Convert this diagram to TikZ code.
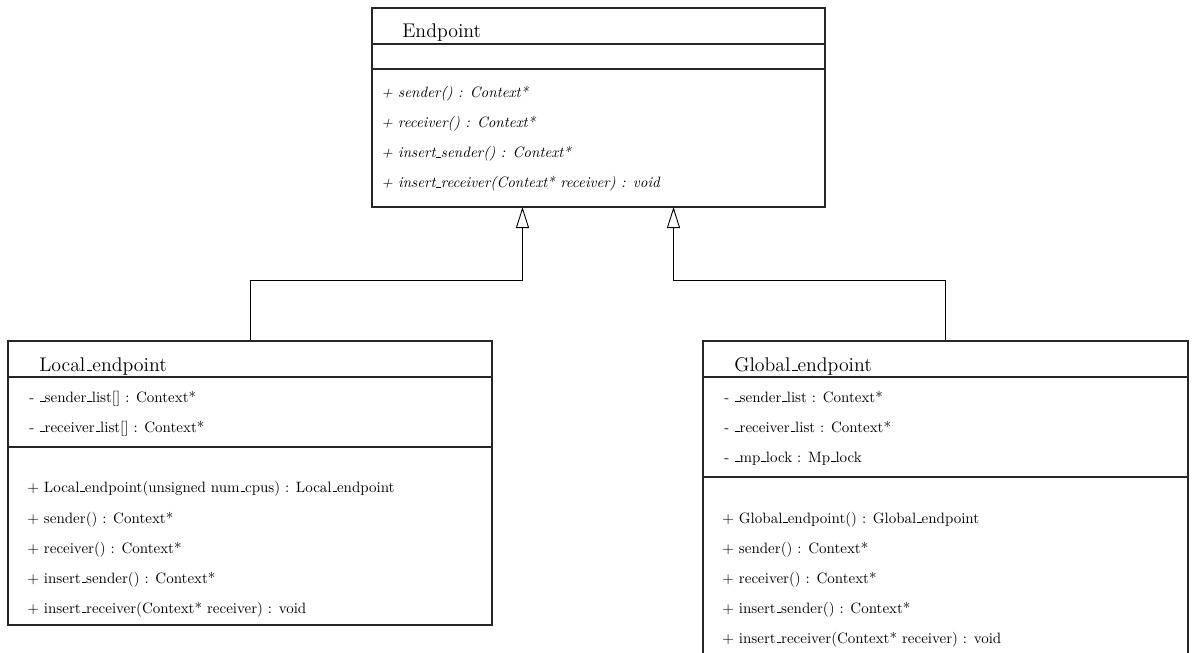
\documentclass[tikz,border=0pt]{standalone}
\usetikzlibrary{arrows.meta,fit}
% low, narrow underscore in the classic Computer Modern style
\newcommand{\usc}{\kern.06em\rule{.3em}{0.4pt}}
\begin{document}
\begin{tikzpicture}[
  x=0.666667pt, y=-0.666667pt,
  classbox/.style={draw=black!85, line width=0.9pt, inner sep=0pt, fit=#1},
  divider/.style={draw=black!85, line width=0.9pt},
  classname/.style={anchor=base west, inner sep=0pt, font=\fontsize{13.2}{16}\selectfont},
  member/.style={anchor=base west, inner sep=0pt},
  absmember/.style={anchor=base west, inner sep=0pt, font=\itshape},
  inherit/.style={draw=black, line width=0.6pt,
    -{Triangle[open, length=14pt, width=8.7pt, fill=white]}}
]
\clip (0,0) rectangle (1193,652);

% ---- Endpoint (abstract) ----
\coordinate (eTL) at (372,8);
\coordinate (eBR) at (825,207);
\node[classbox={(eTL)(eBR)}] (endpoint) {};
\draw[divider] (372,44) -- (825,44);
\draw[divider] (372,69) -- (825,69);
\node[classname] (eName) at (402,37.5) {Endpoint};
\node[absmember] (e1) at (381,97.5)  {+ sender() : Context*};
\node[absmember] (e2) at (381,127.5) {+ receiver() : Context*};
\node[absmember] (e3) at (381,157.5) {+ insert\usc sender() : Context*};
\node[absmember] (e4) at (381,187.5) {+ insert\usc receiver(Context* receiver) : void};

% ---- Local_endpoint ----
\coordinate (lTL) at (8,341);
\coordinate (lBR) at (492,625);
\node[classbox={(lTL)(lBR)}] (local) {};
\draw[divider] (8,377) -- (492,377);
\draw[divider] (8,447) -- (492,447);
\node[classname] (lName) at (39,371) {Local\usc endpoint};
\node[member] (la1) at (29,402) {- \usc sender\usc list[] : Context*};
\node[member] (la2) at (29,432) {- \usc receiver\usc list[] : Context*};
\node[member] (lo1) at (27,492) {+ Local\usc endpoint(unsigned num\usc cpus) : Local\usc endpoint};
\node[member] (lo2) at (27,523) {+ sender() : Context*};
\node[member] (lo3) at (27,553) {+ receiver() : Context*};
\node[member] (lo4) at (27,583) {+ insert\usc sender() : Context*};
\node[member] (lo5) at (27,613) {+ insert\usc receiver(Context* receiver) : void};

% ---- Global_endpoint ----
\coordinate (gTL) at (703,341);
\coordinate (gBR) at (1188,670);
\node[classbox={(gTL)(gBR)}] (global) {};
\draw[divider] (703,377) -- (1188,377);
\draw[divider] (703,477) -- (1188,477);
\node[classname] (gName) at (734,371) {Global\usc endpoint};
\node[member] (ga1) at (724,402) {- \usc sender\usc list : Context*};
\node[member] (ga2) at (724,432) {- \usc receiver\usc list : Context*};
\node[member] (ga3) at (724,462) {- \usc mp\usc lock : Mp\usc lock};
\node[member] (go1) at (722,523) {+ Global\usc endpoint() : Global\usc endpoint};
\node[member] (go2) at (722,553) {+ sender() : Context*};
\node[member] (go3) at (722,583) {+ receiver() : Context*};
\node[member] (go4) at (722,613) {+ insert\usc sender() : Context*};
\node[member] (go5) at (722,643) {+ insert\usc receiver(Context* receiver) : void};

% ---- generalisation connectors ----
\coordinate (lTip) at (522.5,207);
\coordinate (gTip) at (673.5,207);
\coordinate (bendY) at (0,280.5);
\draw[inherit] (local.north) -- (local.north |- bendY) -| (lTip);
\draw[inherit] (global.north) -- (global.north |- bendY) -| (gTip);
\end{tikzpicture}
\end{document}
